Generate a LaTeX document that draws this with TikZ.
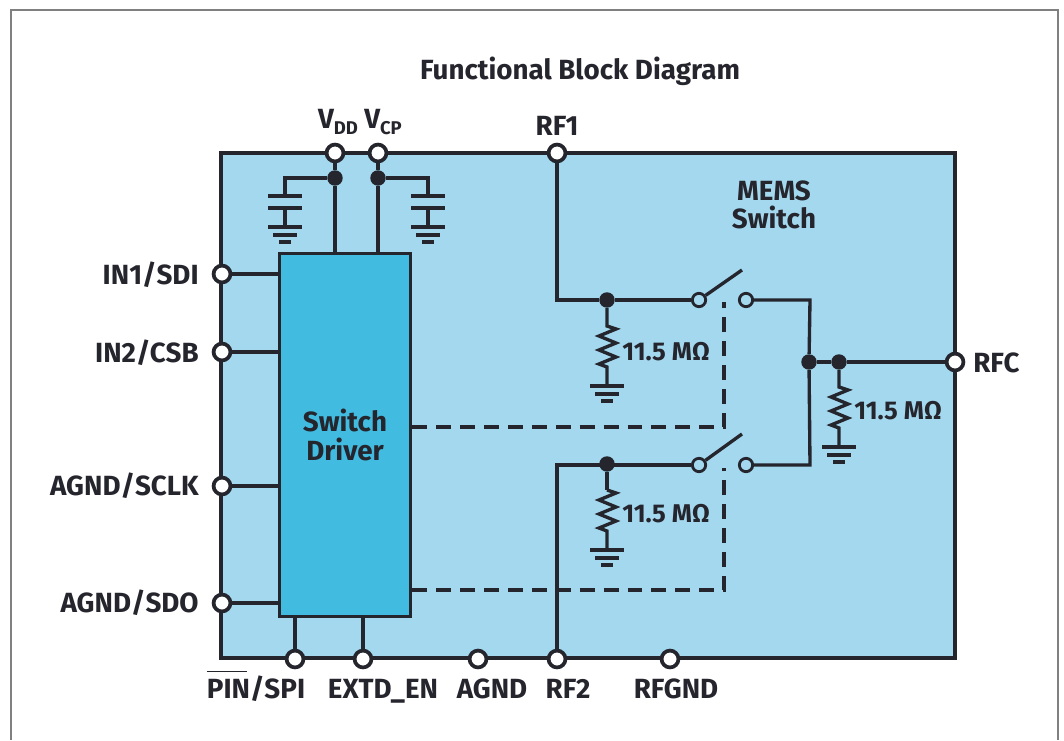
\documentclass[tikz,border=0pt]{standalone}
\usepackage{fontspec}
\setmainfont{Fira Sans}
\usepackage{tikz}
\usetikzlibrary{shapes}
\usetikzlibrary{calc}
\definecolor{inkdark}{HTML}{25252D}
\definecolor{memsblue}{HTML}{A3D8EF}
\definecolor{driverblue}{HTML}{41BBE0}
\tikzstyle{memsblock}=[draw=inkdark,line width=2.6pt,fill=memsblue]
\tikzstyle{driver}=[
        rectangle,
        draw=inkdark,
        line width=2pt,
        fill=driverblue,
        minimum width=74.8pt,
        minimum height=206.4pt,
        inner sep=0pt,
        align=center,
        text=inkdark,
        font=\fontsize{15.8}{16}\selectfont\bfseries
]
\tikzstyle{pin}=[circle,draw=inkdark,line width=2.1pt,fill=white,minimum size=9.6pt,inner sep=0pt]
\tikzstyle{contact}=[circle,draw=inkdark,line width=1.6pt,fill=memsblue,minimum size=7.6pt,inner sep=0pt]
\tikzstyle{junction}=[circle,fill=inkdark,minimum size=8.8pt,inner sep=0pt]
\tikzstyle{wire}=[draw=inkdark,line width=1.9pt]
\tikzstyle{ctrl}=[draw=inkdark,line width=1.9pt,dash pattern=on 8.5pt off 5.1pt]
\tikzstyle{lbl}=[text=inkdark,inner sep=0pt,font=\fontsize{15.8}{16}\selectfont\bfseries,align=center]
\tikzstyle{ohms}=[lbl,anchor=west,font=\fontsize{14.6}{16}\selectfont\bfseries]
\newcommand{\zigzag}{-- ++(9,3) -- ++(-17,7) -- ++(17,7) -- ++(-17,7) -- ++(17,7) -- ++(-17,7) -- ++(8,3)}
\newcommand{\ground}[1]{\draw[wire] (#1) ++(-17,0) -- ++(34,0) ++(-29,8) -- ++(24,0) ++(-18,7) -- ++(12,0);}
\newcommand{\subfont}[1]{\raisebox{-3.8pt}{\fontsize{10.5}{10.5}\selectfont #1}}
\begin{document}
\begin{tikzpicture}[x=0.02cm,y=-0.02cm]
\useasboundingbox (0,0) rectangle (1064,740);
\draw[draw=gray,line width=1.2pt] (11,740) -- (11,10) -- (1058,10) -- (1058,740);
\draw[memsblock] (221,153) rectangle (955,658);
\node[driver] (drv) at (345,435) {Switch\\Driver};
%pins
\node[pin] (vdd) at (335,153) {};
\node[pin] (vcp) at (378,153) {};
\node[pin] (rfa) at (557,153) {};
\node[pin] (ina) at (222,274) {};
\node[pin] (inb) at (222,352) {};
\node[pin] (sclk) at (222,486) {};
\node[pin] (sdo) at (222,603) {};
\node[pin] (spi) at (295,659) {};
\node[pin] (extd) at (363,659) {};
\node[pin] (agnd) at (478,659) {};
\node[pin] (rfb) at (557,659) {};
\node[pin] (rfgnd) at (670,659) {};
\node[pin] (rfc) at (955,362) {};
%junctions and contacts
\node[junction] (jvdd) at (335,178) {};
\node[junction] (jvcp) at (378,178) {};
\node[junction] (ja) at (607,300) {};
\node[junction] (jb) at (607,464) {};
\node[junction] (jc) at (809,362) {};
\node[junction] (jd) at (839,362) {};
\node[contact] (sa) at (699,300) {};
\node[contact] (sb) at (746,300) {};
\node[contact] (sc) at (699,465) {};
\node[contact] (sd) at (746,465) {};
%free ends
\coordinate (capl) at (285,178);
\coordinate (capr) at (428,178);
\coordinate (ga) at (607,386);
\coordinate (gb) at (607,550);
\coordinate (gc) at (839,447);
\coordinate (gl) at (285,227);
\coordinate (gr) at (428,227);
\coordinate (ra) at (607,326);
\coordinate (rb) at (607,490);
\coordinate (rc) at (839,387);
\coordinate (ta) at (742,270);
\coordinate (tb) at (742,434);
\coordinate (ca) at (557,300);
\coordinate (cb) at (557,465);
\coordinate (cc) at (810,300);
\coordinate (cd) at (810,465);
\coordinate (da) at (724,427);
\coordinate (db) at (724,590);
\coordinate (ea) at (724,302);
\coordinate (eb) at (724,468);
%labels
\node[lbl] (title) at (580,71) {Functional Block Diagram};
\node[lbl] (lvdd) at (338,122) {V\subfont{DD}};
\node[lbl] (lvcp) at (383,122) {V\subfont{CP}};
\node[lbl] (lrfa) at (557,126) {RF1};
\node[lbl] (lmems) at (774,205) {MEMS\\Switch};
\node[lbl,anchor=east] (lina) at (199,275) {IN1/SDI};
\node[lbl,anchor=east] (linb) at (199,353) {IN2/CSB};
\node[lbl,anchor=east] (lsclk) at (199,486) {AGND/SCLK};
\node[lbl,anchor=east] (lsdo) at (199,603) {AGND/SDO};
\node[lbl,anchor=base] (lspi) at (256,698) {\rlap{\rule[14.7pt]{23pt}{0.8pt}}PIN/SPI};
\node[lbl,anchor=base] (lextd) at (383,698) {EXTD\_EN};
\node[lbl,anchor=base] (lagnd) at (492,698) {AGND};
\node[lbl,anchor=base] (lrfb) at (568,698) {RF2};
\node[lbl,anchor=base] (lrfgnd) at (676,698) {RFGND};
\node[lbl,anchor=west] (lrfc) at (973,363) {RFC};
\node[ohms] (lra) at (622,352) {11.5 MΩ};
\node[ohms] (lrb) at (622,514) {11.5 MΩ};
\node[ohms] (lrc) at (854,411) {11.5 MΩ};
%wires
\draw[wire] (vdd) -- (jvdd) -- (jvdd |- drv.north);
\draw[wire] (vcp) -- (jvcp) -- (jvcp |- drv.north);
\draw[wire] (jvdd) -- (capl) -- ++(0,18) ++(-17,0) -- ++(34,0) ++(-34,12) -- ++(34,0) ++(-17,0) -- (gl);
\draw[wire] (jvcp) -- (capr) -- ++(0,18) ++(-17,0) -- ++(34,0) ++(-34,12) -- ++(34,0) ++(-17,0) -- (gr);
\ground{gl}
\ground{gr}
\draw[wire] (ina) -- (ina -| drv.west);
\draw[wire] (inb) -- (inb -| drv.west);
\draw[wire] (sclk) -- (sclk -| drv.west);
\draw[wire] (sdo) -- (sdo -| drv.west);
\draw[wire] (spi) -- (spi |- drv.south);
\draw[wire] (extd) -- (extd |- drv.south);
\draw[wire] (rfa) -- (ca) -- (ja) -- (sa);
\draw[wire] (rfb) -- (cb) -- (sc);
\draw[wire] (jb) -- (rb);
\draw[wire] (sb) -- (cc) -- (jc);
\draw[wire] (sd) -- (cd) -- (jc);
\draw[wire] (jc) -- (jd) -- (rfc);
\draw[wire] (sa) -- (ta);
\draw[wire] (sc) -- (tb);
\draw[wire] (ja) -- (ra) \zigzag -- (ga);
\draw[wire] (rb) \zigzag -- (gb);
\draw[wire] (jd) -- (rc) \zigzag -- (gc);
\ground{ga}
\ground{gb}
\ground{gc}
%control lines
\draw[ctrl] (drv.east |- da) -- (da) -- (ea);
\draw[ctrl] (drv.east |- db) -- (db) -- (eb);
\end{tikzpicture}
\end{document}
